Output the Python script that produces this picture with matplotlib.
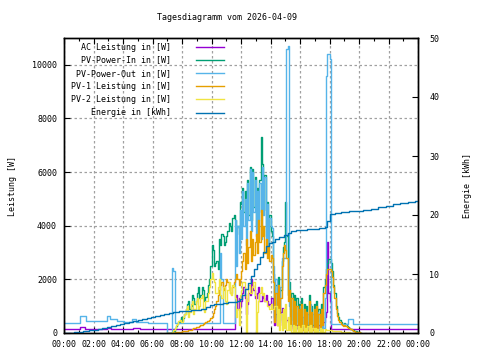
import numpy as np
import matplotlib
matplotlib.use("Agg")
import matplotlib.pyplot as plt
from matplotlib.lines import Line2D

plt.rcParams['font.family'] = 'DejaVu Sans Mono'
plt.rcParams['font.size'] = 6

title = 'Tagesdiagramm vom 2026-04-09'
labels = ['AC Leistung in [W]', 'PV-Power-In in [W]', 'PV-Power-Out in [W]',
          'PV-1 Leistung in [W]', 'PV-2 Leistung in [W]', 'Energie in [kWh]']
colors = ['#9400d3', '#009e73', '#56b4e9', '#e69f00', '#f0e442', '#0072b2']

# night part (hours, W)
night_h = [0.0, 1.08, 1.5, 2.9, 3.1, 3.6, 4.1, 4.6, 4.85, 5.7]
night_out = [375, 635, 450, 635, 510, 450, 400, 510, 400, 385]
night_ac_h = [0.0, 1.07, 1.4, 2.9, 3.2, 4.7, 5.15]
night_ac = [150, 225, 140, 200, 140, 170, 140]

# day part, 5 minute values 07:00 .. 20:10 (one row per hour)
day_h = np.arange(7 * 60, 20 * 60 + 15, 5) / 60.0

pv_in = [0, 0, 0, 0, 40, 90, 180, 260, 330, 420, 500, 600,
         450, 550, 700, 900, 1100, 1200, 900, 1000, 1400, 1300, 1100, 1200,
         1500, 1700, 1300, 1400, 1700, 1600, 1200, 1350, 1500, 1800, 2000, 2500,
         3300, 3100, 2500, 2600, 2700, 2400, 3500, 3300, 3700, 3600, 3300, 3400,
         3600, 3800, 4100, 4000, 3800, 4300, 4400, 4200, 3700, 4000, 3900, 4900,
         4800, 5400, 4500, 5300, 4300, 5700, 4400, 6200, 4200, 6100, 4700, 5800,
         4000, 5400, 4500, 5700, 7300, 6300, 4600, 5900, 3600, 4900, 3400, 4400,
         3800, 3600, 2200, 600, 1800, 500, 2100, 700, 1600, 2700, 3200, 3400,
         4900, 3600, 1400, 1900, 500, 1500, 300, 1400, 400, 1300, 300, 1100,
         400, 1300, 300, 1100, 300, 1000, 300, 1400, 400, 1000, 300, 1100,
         300, 1200, 300, 900, 400, 1100, 500, 1700, 2000, 2400, 2600, 2750,
         2750, 2600, 2300, 1800, 1500, 1000, 750, 600, 480, 400, 340, 300,
         360, 320, 260, 230, 200, 160, 120, 100, 80, 60, 40, 30,
         20, 10, 0]

pv1 = [0, 0, 0, 0, 10, 15, 20, 25, 40, 45, 50, 55,
       60, 65, 70, 80, 90, 95, 100, 120, 150, 180, 200, 210,
       220, 240, 260, 280, 300, 330, 380, 400, 430, 460, 500, 550,
       600, 750, 900, 1000, 1200, 1400, 1600, 1800, 1900, 1700, 1600, 1800,
       2000, 1900, 1700, 1500, 1500, 1700, 1900, 2000, 2200, 2000, 1800, 2000,
       2300, 2700, 3000, 2400, 3500, 2600, 3200, 3800, 2700, 3500, 2900, 3400,
       3700, 3000, 4200, 3400, 4600, 3600, 4000, 3000, 3500, 2800, 3200, 2700,
       2900, 2800, 1900, 400, 1500, 300, 1800, 500, 1300, 2500, 3000, 3300,
       3100, 2800, 1200, 1600, 300, 1300, 100, 1200, 200, 1000, 150, 900,
       200, 1100, 100, 900, 150, 800, 100, 1200, 200, 800, 100, 900,
       150, 1000, 100, 700, 200, 900, 300, 1500, 1800, 2200, 2400, 2400,
       2400, 2300, 2100, 1700, 1300, 900, 650, 500, 400, 320, 280, 260,
       300, 260, 220, 190, 170, 140, 110, 90, 70, 50, 40, 30,
       20, 10, 0]

pv2 = [0, 0, 0, 0, 50, 120, 200, 280, 350, 450, 500, 400,
       400, 600, 700, 900, 1000, 600, 800, 1100, 1200, 700, 900, 1200,
       1300, 900, 1000, 1300, 1400, 900, 800, 1200, 1200, 1500, 1700, 2000,
       2250, 2000, 1900, 1500, 1500, 1700, 2000, 1400, 1300, 1700, 1700, 1200,
       1100, 1600, 1900, 1500, 1400, 1800, 1700, 1300, 600, 900, 300, 1400,
       1600, 1900, 1900, 1400, 0, 1200, 1800, 1500, 1500, 1700, 1900, 1400,
       0, 800, 1200, 1500, 1700, 1400, 1500, 1200, 1200, 1000, 1000, 900,
       1100, 900, 900, 1000, 1000, 300, 900, 100, 700, 100, 900, 200,
       1100, 100, 600, 100, 300, 50, 300, 50, 250, 50, 250, 50,
       200, 50, 300, 50, 200, 50, 250, 50, 300, 50, 200, 50,
       200, 50, 150, 50, 200, 50, 150, 50, 150, 100, 100, 100,
       100, 95, 90, 85, 80, 75, 70, 65, 60, 55, 50, 45,
       40, 35, 30, 25, 20, 15, 10, 5, 0, 0, 0, 0,
       0, 0, 0]

pv_out_day = [0, 0, 0, 0, 2420, 2330, 385, 385, 385, 385, 385, 385,
              385, 385, 385, 385, 385, 385, 385, 385, 385, 385, 385, 385,
              385, 385, 385, 385, 385, 385, 385, 385, 385, 385, 385, 385,
              385, 385, 385, 385, 385, 385, 385, 3000, 2000, 385, 385, 385,
              385, 385, 385, 385, 385, 385, 385, 4200, 2500, 4000, 3000, 4600,
              3500, 5300, 4000, 5000, 3300, 5600, 4200, 6100, 3800, 6000, 4500, 5700,
              3600, 5300, 4200, 5600, 3500, 6200, 4400, 5800, 3300, 4800, 3000, 4300,
              4000, 3900, 2500, 500, 2000, 400, 1500, 400, 1700, 2800, 2800, 2800,
              2800, 10600, 10700, 1000, 900, 300, 1200, 100, 1000, 200, 800, 100,
              1000, 200, 600, 100, 800, 100, 700, 100, 1100, 200, 700, 100,
              500, 100, 800, 100, 600, 100, 800, 200, 1300, 9600, 10400, 10400,
              10200, 335, 335, 335, 335, 335, 335, 335, 335, 335, 335, 335,
              335, 335, 335, 510, 510, 510, 510, 350, 350, 350, 350, 350,
              350, 350, 350]

ac_day = [140] * 55 + [1000, 1400, 900, 1300, 1000,
          1200, 1500, 1700, 1300, 700, 1100, 1500, 1400, 2000, 1800, 1600, 1300,
          1300, 1500, 1700, 1200, 1200, 1400, 1300, 1200, 1400, 1200, 1000, 1100,
          1300, 1300, 900, 300, 700, 300, 500, 300, 800, 950, 600, 500,
          600, 500, 400, 300, 200, 300, 100, 400, 150, 300, 100, 300,
          150, 300, 100, 300, 100, 300, 100, 400, 150, 300, 100, 300,
          100, 300, 100, 300, 150, 300, 200, 400, 600, 800, 3400, 1500,
          1200] + [140] * 26

# energy (hours, kWh)
e_h = [0.0, 0.7, 1.0, 1.3, 1.7, 2.0, 2.3, 2.6, 2.9, 3.2, 3.5, 3.8, 4.1, 4.4, 4.7,
       5.0, 5.3, 5.6, 5.9, 6.2, 6.5, 6.8, 7.1, 7.4, 7.8, 8.2, 8.6, 9.0, 9.3, 9.6,
       9.9, 10.2, 10.5, 10.8, 11.1, 11.4, 11.7, 11.9, 12.1, 12.3, 12.5, 12.7, 12.9,
       13.1, 13.3, 13.5, 13.7, 13.9, 14.1, 14.3, 14.6, 14.9, 15.2, 15.4, 15.7, 16.1,
       16.5, 16.9, 17.3, 17.7, 17.85, 18.0, 18.4, 18.8, 19.3, 19.8, 20.3, 20.8,
       21.3, 21.8, 22.3, 22.8, 23.3, 23.8, 24.0]
e_kwh = [0.0, 0.1, 0.2, 0.33, 0.45, 0.55, 0.7, 0.85, 1.0, 1.15, 1.3, 1.5, 1.7, 1.85,
         2.0, 2.2, 2.35, 2.5, 2.7, 2.85, 3.0, 3.2, 3.35, 3.55, 3.65, 3.75, 3.85, 3.95,
         4.1, 4.4, 4.7, 4.9, 5.0, 5.15, 5.25, 5.3, 5.45, 5.8, 6.5, 7.4, 8.4, 9.6, 10.8,
         11.7, 12.8, 13.8, 14.8, 15.2, 15.5, 16.0, 16.3, 16.6, 17.0, 17.3, 17.4, 17.5,
         17.6, 17.7, 17.8, 17.95, 19.0, 20.1, 20.3, 20.45, 20.6, 20.75, 20.9, 21.05,
         21.3, 21.5, 21.8, 22.0, 22.2, 22.35, 22.4]

out_h = list(night_h) + list(day_h) + [24.0]
out_w = night_out + pv_out_day + [350]
ac_h = list(night_ac_h) + list(day_h) + [24.0]
ac_w = night_ac + ac_day + [140]

fig = plt.figure(figsize=(4.8, 3.6), dpi=100)
ax = fig.add_axes([64 / 480, 27 / 360, 354 / 480, 295 / 360])
ax2 = ax.twinx()

lw = 1.0
ax.plot(ac_h, ac_w, color=colors[0], lw=lw, drawstyle='steps-post')
ax.plot(day_h, pv_in, color=colors[1], lw=lw, drawstyle='steps-post')
ax.plot(out_h, out_w, color=colors[2], lw=lw, drawstyle='steps-post')
ax.plot(day_h, pv1, color=colors[3], lw=lw, drawstyle='steps-post')
ax.plot(day_h, pv2, color=colors[4], lw=lw, drawstyle='steps-post')
ax2.plot(e_h, e_kwh, color=colors[5], lw=lw, drawstyle='steps-post')

ax.set_xlim(0, 24)
ax.set_ylim(0, 11000)
ax2.set_ylim(0, 50)
ax.set_xticks(range(0, 25, 2))
ax.set_xticklabels(['%02d:00' % (h % 24) for h in range(0, 25, 2)])
ax.set_xticks(range(0, 25), minor=True)
ax.set_yticks(range(0, 10001, 2000))
ax2.set_yticks(range(0, 51, 10))

ax.tick_params(which='both', direction='in', top=True, right=False, width=0.8)
ax.tick_params(which='major', length=4, pad=5)
ax.tick_params(which='minor', length=2)
ax2.tick_params(direction='in', length=4, width=0.8, pad=8)

ax.grid(True, which='major', color='#a0a0a0', linestyle=(0, (2, 2)), lw=0.9)
ax.set_axisbelow(True)
for a in (ax, ax2):
    for s in a.spines.values():
        s.set_linewidth(1.0)

ax.set_ylabel('Leistung [W]', labelpad=11)
ax2.set_ylabel('Energie [kWh]', labelpad=17)
fig.text(227 / 480, 1 - 18 / 360, title, ha='center', va='center')

# gnuplot-like key, text right aligned
for i, (lab, c) in enumerate(zip(labels, colors)):
    y = 1 - (47 + 13.1 * i) / 360
    fig.text(171 / 480, y, lab, ha='right', va='center')
    fig.add_artist(Line2D([196 / 480, 224 / 480], [y, y], color=c, lw=lw,
                          transform=fig.transFigure))

fig.savefig('out.png', dpi=100)
